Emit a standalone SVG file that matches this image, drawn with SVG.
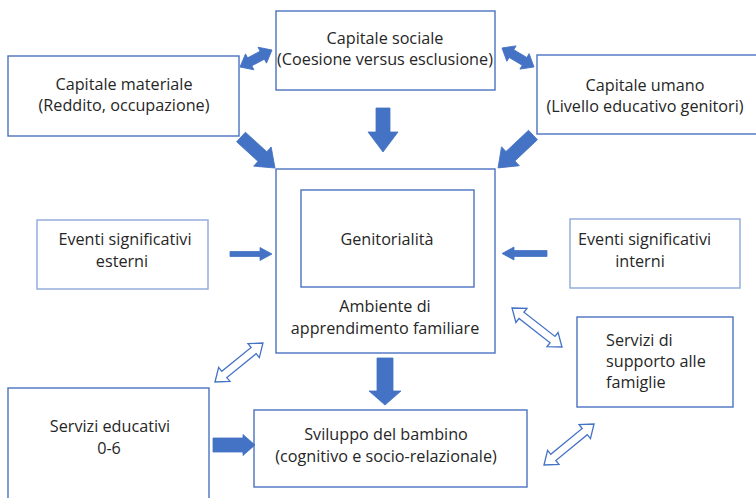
<svg xmlns="http://www.w3.org/2000/svg" width="756" height="498" viewBox="0 0 756 498">
<style>
.box{fill:#fff;stroke:#4a72c0;stroke-width:1.4}
.lbox{fill:#fff;stroke:#8ea9db;stroke-width:1.4}
.t{font-family:"Open Sans","Liberation Sans",sans-serif;font-size:16.2px;fill:#262626}
.c{text-anchor:middle}
.solid{fill:#4472c4;stroke:#4472c4;stroke-width:0.8;stroke-linejoin:round}
.hollow{fill:#fff;stroke:#4472c4;stroke-width:1.3;stroke-linejoin:miter}
</style>
<rect width="756" height="498" fill="#fff"/>
<g id="capitale-sociale"><rect class="box" x="276" y="11" width="219" height="79"/>
<text class="t c" x="385" y="44">Capitale sociale</text>
<text class="t c" x="385" y="65">(Coesione versus esclusione)</text></g>
<g id="capitale-materiale"><rect class="box" x="8" y="56" width="231" height="80"/>
<text class="t c" x="124" y="90">Capitale materiale</text>
<text class="t c" x="124" y="111">(Reddito, occupazione)</text></g>
<g id="capitale-umano"><rect class="box" x="537" y="55" width="222" height="79"/>
<text class="t c" x="645" y="91">Capitale umano</text>
<text class="t c" x="645" y="112">(Livello educativo genitori)</text></g>
<g id="ambiente"><rect class="box" x="276" y="169" width="219" height="184"/>
<text class="t c" x="385" y="312">Ambiente di</text>
<text class="t c" x="385" y="334">apprendimento familiare</text></g>
<g id="genitorialita"><rect class="box" x="301" y="190" width="173" height="97"/>
<text class="t c" x="387" y="245">Genitorialità</text></g>
<g id="eventi-esterni"><rect class="lbox" x="37" y="220" width="171" height="69"/>
<text class="t c" x="125" y="245">Eventi significativi</text>
<text class="t c" x="122" y="267">esterni</text></g>
<g id="eventi-interni"><rect class="lbox" x="570" y="219" width="170" height="69"/>
<text class="t" x="578" y="245">Eventi significativi</text>
<text class="t c" x="640" y="267">interni</text></g>
<g id="servizi-supporto"><rect class="box" x="577" y="317" width="156" height="90"/>
<text class="t" x="606" y="346">Servizi di</text>
<text class="t" x="606" y="367">supporto alle</text>
<text class="t" x="606" y="388">famiglie</text></g>
<g id="servizi-educativi"><rect class="box" x="8" y="388" width="201" height="120"/>
<text class="t c" x="110" y="432">Servizi educativi</text>
<text class="t c" x="109" y="454">0-6</text></g>
<g id="sviluppo"><rect class="box" x="254" y="410" width="273" height="77"/>
<text class="t c" x="386" y="440">Sviluppo del bambino</text>
<text class="t c" x="386" y="462">(cognitivo e socio-relazionale)</text></g>
<g id="connectors">
<polygon class="solid" transform="translate(240,67) rotate(-27.98)" points="0,0 11,-9 11,-4.5 25.2,-4.5 25.2,-9 36.2,0 25.2,9 25.2,4.5 11,4.5 11,9"/>
<polygon class="solid" transform="translate(502,48) rotate(30.7)" points="0,0 11,-9 11,-4.5 26.2,-4.5 26.2,-9 37.2,0 26.2,9 26.2,4.5 11,4.5 11,9"/>
<polygon class="solid" points="376,108 390,108 390,132 398,132 383,152 368,132 376,132"/>
<polygon class="solid" transform="translate(241,137) rotate(42.4)" points="0,-6.5 29,-6.5 29,-13 46,0 29,13 29,6.5 0,6.5"/>
<polygon class="solid" transform="translate(533,135) rotate(136.7)" points="0,-6.5 31,-6.5 31,-13 48,0 31,13 31,6.5 0,6.5"/>
<polygon class="solid" points="230,251.5 260,251.5 260,247.5 272,254 260,260.5 260,256.5 230,256.5"/>
<polygon class="solid" points="547,250.5 514,250.5 514,247 502,253.5 514,260 514,256.5 547,256.5"/>
<polygon class="solid" points="377,358 393,358 393,391 401,391 385,405 369,391 377,391"/>
<polygon class="solid" points="213,438 243,438 243,434.5 255,445 243,455.5 243,452 213,452"/>
<polygon class="hollow" transform="translate(215,382) rotate(-39.1)" points="0,0 12,-9 12,-4 49.8,-4 49.8,-9 61.8,0 49.8,9 49.8,4 12,4 12,9"/>
<polygon class="hollow" transform="translate(512,308) rotate(37.95)" points="0,0 12,-9 12,-4 51.4,-4 51.4,-9 63.4,0 51.4,9 51.4,4 12,4 12,9"/>
<polygon class="hollow" transform="translate(544,465) rotate(-39.35)" points="0,0 12,-9 12,-4 52.7,-4 52.7,-9 64.7,0 52.7,9 52.7,4 12,4 12,9"/>
</g>
</svg>
